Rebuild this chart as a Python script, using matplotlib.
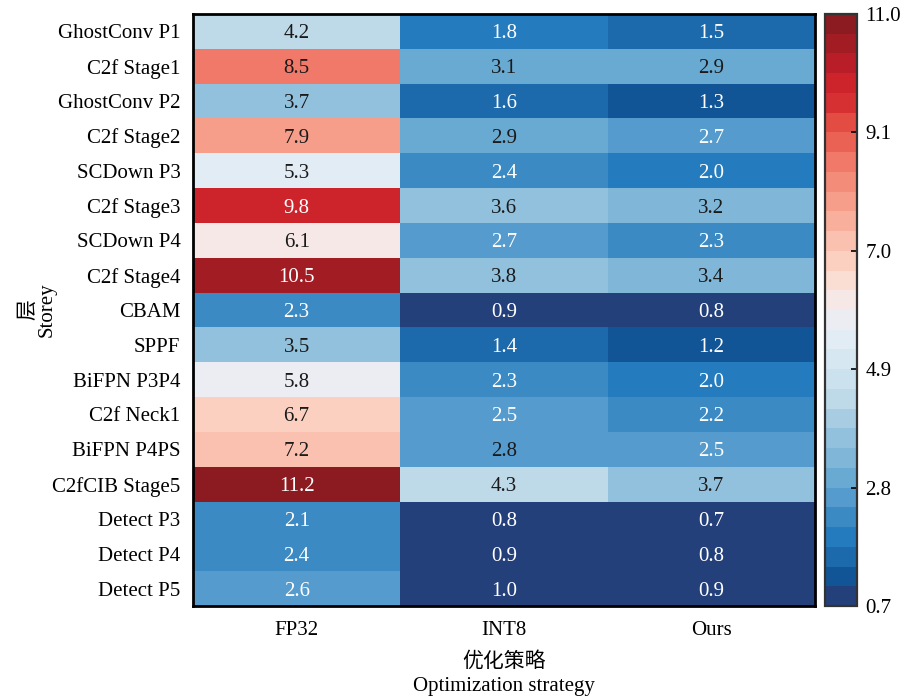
import numpy as np
import matplotlib
matplotlib.use("Agg")
import matplotlib.pyplot as plt
from matplotlib.colors import ListedColormap, Normalize

plt.rcParams['font.family'] = ['Liberation Serif', 'Noto Sans CJK SC']

layers = ['GhostConv P1', 'C2f Stage1', 'GhostConv P2', 'C2f Stage2', 'SCDown P3',
          'C2f Stage3', 'SCDown P4', 'C2f Stage4', 'CBAM', 'SPPF', 'BiFPN P3P4',
          'C2f Neck1', 'BiFPN P4PS', 'C2fCIB Stage5', 'Detect P3', 'Detect P4', 'Detect P5']
strategies = ['FP32', 'INT8', 'Ours']

fp32 = [4.2, 8.5, 3.7, 7.9, 5.3, 9.8, 6.1, 10.5, 2.3, 3.5, 5.8, 6.7, 7.2, 11.2, 2.1, 2.4, 2.6]
int8 = [1.8, 3.1, 1.6, 2.9, 2.4, 3.6, 2.7, 3.8, 0.9, 1.4, 2.3, 2.5, 2.8, 4.3, 0.8, 0.9, 1.0]
ours = [1.5, 2.9, 1.3, 2.7, 2.0, 3.2, 2.3, 3.4, 0.8, 1.2, 2.0, 2.2, 2.5, 3.7, 0.7, 0.8, 0.9]

cbar_ticks = [0.7, 2.8, 4.9, 7.0, 9.1, 11.2]
cbar_labels = ['0.7', '2.8', '4.9', '7.0', '9.1', '11.0']

# 30-step blue-white-red palette, dark blue -> dark red
palette = [
    (36, 64, 122), (18, 85, 150), (28, 105, 172), (36, 124, 190), (60, 138, 196),
    (85, 155, 205), (105, 170, 210), (128, 182, 216), (146, 193, 222), (168, 205, 227),
    (190, 218, 232), (203, 225, 237), (215, 231, 242), (226, 236, 244), (236, 237, 242),
    (246, 232, 230), (250, 222, 212), (251, 208, 192), (250, 193, 176), (248, 176, 157),
    (246, 158, 138), (244, 140, 122), (240, 121, 106), (233, 98, 84), (226, 76, 66),
    (215, 48, 50), (205, 36, 44), (185, 30, 40), (162, 28, 36), (139, 27, 33),
]

data = np.column_stack([fp32, int8, ours])
vmin, vmax = 0.7, 11.2

cmap = ListedColormap(np.array(palette) / 255.0)
norm = Normalize(vmin=vmin, vmax=vmax)

fig = plt.figure(figsize=(9.03, 7.0), dpi=100)
ax = fig.add_axes([193 / 903, 94 / 700, 622 / 903, 592 / 700])
cax = fig.add_axes([825 / 903, 94 / 700, 32 / 903, 592 / 700])

mesh = ax.pcolormesh(data, cmap=cmap, norm=norm)
ax.set_xlim(0, data.shape[1])
ax.set_ylim(data.shape[0], 0)

for i in range(data.shape[0]):
    for j in range(data.shape[1]):
        v = data[i, j]
        t = norm(v)
        color = 'white' if (t < 0.199 or t > 0.8) else '#1a1a1a'
        ax.text(j + 0.5, i + 0.5, f'{v:.1f}', ha='center', va='center_baseline',
                fontsize=15, color=color)

ax.set_xticks(np.arange(len(strategies)) + 0.5)
ax.set_xticklabels(strategies, fontsize=15)
ax.set_yticks(np.arange(len(layers)) + 0.5)
ax.set_yticklabels(layers, fontsize=15)
ax.tick_params(axis='y', length=0, pad=9)
ax.tick_params(axis='x', length=0, pad=11)
for s in ax.spines.values():
    s.set_linewidth(2.0)
    s.set_color('black')

cb = fig.colorbar(mesh, cax=cax)
cb.set_ticks(cbar_ticks)
cb.set_ticklabels(cbar_labels)
cb.ax.tick_params(labelsize=15, direction='in', length=4, width=1.2, pad=6)
cb.outline.set_linewidth(1.6)
cb.outline.set_edgecolor('#333333')

fig.text(38 / 903, 1 - 310 / 700, '层\nStorey', rotation=90, ha='center', va='center',
         fontsize=15, multialignment='center', linespacing=1.0)
fig.text(504 / 903, 1 - 662 / 700, '优化策略', ha='center', va='center', fontsize=15)
fig.text(504 / 903, 1 - 686 / 700, 'Optimization strategy', ha='center', va='center', fontsize=15)

fig.savefig('out.png', dpi=100)
